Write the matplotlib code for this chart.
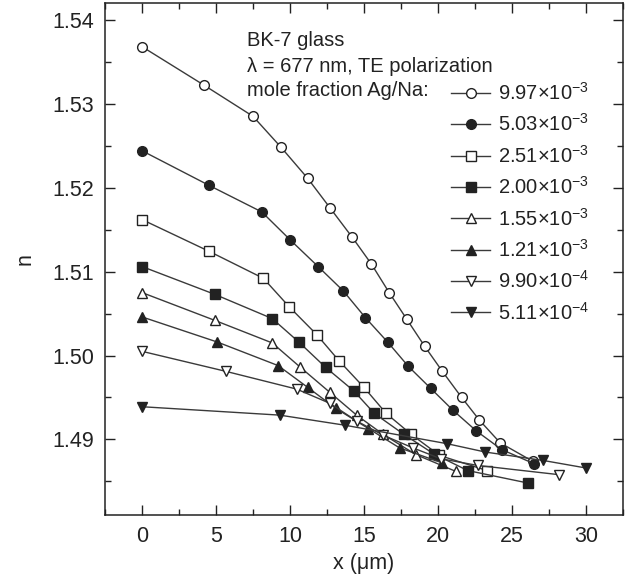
import numpy as np
import matplotlib
matplotlib.use('Agg')
import matplotlib.pyplot as plt
from matplotlib.ticker import MultipleLocator

plt.rcParams['font.family'] = ['Liberation Sans', 'DejaVu Sans']
plt.rcParams['mathtext.fontset'] = 'custom'
plt.rcParams['mathtext.rm'] = 'Liberation Sans'

# mole fraction labels
labels = [r'9.97$\times$10$^{-3}$', r'5.03$\times$10$^{-3}$', r'2.51$\times$10$^{-3}$',
          r'2.00$\times$10$^{-3}$', r'1.55$\times$10$^{-3}$', r'1.21$\times$10$^{-3}$',
          r'9.90$\times$10$^{-4}$', r'5.11$\times$10$^{-4}$']

x1 = [0, 4.2, 7.5, 9.4, 11.2, 12.7, 14.2, 15.5, 16.7, 17.9, 19.1, 20.3, 21.6, 22.8, 24.2, 26.4]
n1 = [1.5368, 1.5322, 1.5285, 1.5248, 1.5211, 1.5176, 1.5141, 1.5109, 1.5075, 1.5043,
      1.5011, 1.4981, 1.4950, 1.4923, 1.4896, 1.4874]

x2 = [0, 4.5, 8.1, 10.0, 11.9, 13.6, 15.1, 16.6, 18.0, 19.5, 21.0, 22.6, 24.3, 26.5]
n2 = [1.5244, 1.5203, 1.5171, 1.5138, 1.5106, 1.5077, 1.5045, 1.5016, 1.4987, 1.4961,
      1.4935, 1.4910, 1.4888, 1.4871]

x3 = [0, 4.55, 8.2, 9.95, 11.8, 13.3, 15.0, 16.5, 18.2, 20.1, 23.3]
n3 = [1.5162, 1.5124, 1.5092, 1.5058, 1.5025, 1.4994, 1.4962, 1.4931, 1.4906, 1.4881, 1.4863]

x4 = [0, 4.9, 8.8, 10.6, 12.4, 14.3, 15.7, 17.7, 19.7, 22.0, 26.1]
n4 = [1.5106, 1.5073, 1.5044, 1.5016, 1.4986, 1.4958, 1.4931, 1.4906, 1.4883, 1.4863, 1.4848]

x5 = [0, 4.9, 8.8, 10.7, 12.7, 14.5, 16.3, 18.5, 21.2]
n5 = [1.5075, 1.5042, 1.5015, 1.4986, 1.4956, 1.4929, 1.4906, 1.4882, 1.4862]

x6 = [0, 5.1, 9.2, 11.2, 13.1, 15.3, 17.4, 20.3]
n6 = [1.5046, 1.5016, 1.4988, 1.4962, 1.4937, 1.4913, 1.4890, 1.4872]

x7 = [0, 5.7, 10.45, 12.7, 14.5, 16.3, 18.3, 20.2, 22.7, 28.2]
n7 = [1.5005, 1.4981, 1.4960, 1.4943, 1.4922, 1.4905, 1.4890, 1.4877, 1.4869, 1.4858]

x8 = [0, 9.3, 13.7, 20.6, 23.2, 27.1, 30.0]
n8 = [1.4939, 1.4929, 1.4917, 1.4895, 1.4885, 1.4875, 1.4866]

xs = [x1, x2, x3, x4, x5, x6, x7, x8]
ns = [n1, n2, n3, n4, n5, n6, n7, n8]
markers = ['o', 'o', 's', 's', '^', '^', 'v', 'v']
filled = [False, True, False, True, False, True, False, True]

dark = '#222222'

fig = plt.figure(figsize=(6.39, 5.88), dpi=100)
ax = fig.add_axes([105/639, 1 - 515/588, 518/639, 512/588])

for x, n, m, f, lab in zip(xs, ns, markers, filled, labels):
    ms = 7.5 if m in ('^', 'v') else 7
    ax.plot(x, n, marker=m, ms=ms, color='#3a3a3a', lw=1.0,
            mfc=dark if f else 'white', mec=dark, mew=1.0, label=lab)

ax.set_xlim(-2.5, 32.5)
ax.set_ylim(1.481, 1.542)
ax.xaxis.set_major_locator(MultipleLocator(5))
ax.xaxis.set_minor_locator(MultipleLocator(2.5))
ax.yaxis.set_major_locator(MultipleLocator(0.01))
ax.yaxis.set_minor_locator(MultipleLocator(0.005))
ax.yaxis.set_major_formatter(matplotlib.ticker.FormatStrFormatter('%.2f'))
ax.tick_params(which='both', direction='in', top=True, right=True, color=dark, width=1.0)
ax.tick_params(which='major', length=7, labelsize=15.5, pad=8, labelcolor=dark)
ax.tick_params(which='minor', length=4)
for s in ax.spines.values():
    s.set_linewidth(1.1)
    s.set_color(dark)

ax.set_xlabel('x (μm)', fontsize=15.5, color=dark, labelpad=4)
ax.set_ylabel('n', fontsize=15.5, color=dark, labelpad=12)

fig.text(247/639, 1 - 40/588, 'BK-7 glass', fontsize=14.5, va='center', color=dark)
fig.text(247/639, 1 - 66/588, 'λ = 677 nm, TE polarization', fontsize=14.5, va='center', color=dark)
fig.text(247/639, 1 - 91/588, 'mole fraction Ag/Na:', fontsize=14.5, va='center', color=dark)

leg = ax.legend(loc='upper left', bbox_to_anchor=(451/639, 1 - 82/588),
                bbox_transform=fig.transFigure, frameon=False, fontsize=14.5,
                handlelength=1.95, handletextpad=0.4, labelspacing=0.47,
                borderpad=0, borderaxespad=0)
for t in leg.get_texts():
    t.set_color(dark)

fig.savefig('out.png', dpi=100)
